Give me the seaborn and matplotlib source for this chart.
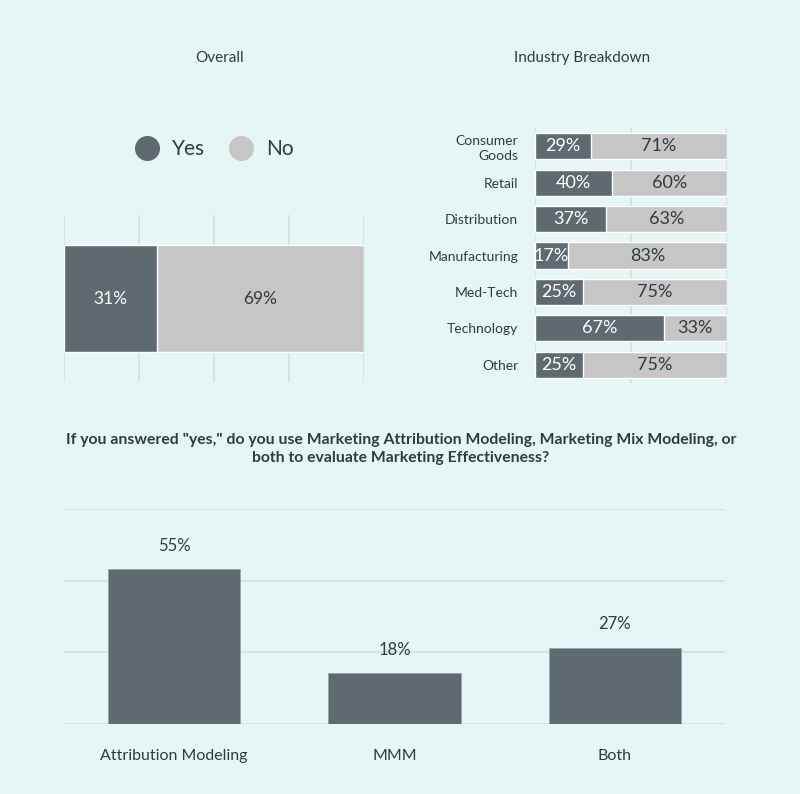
import matplotlib
matplotlib.use("Agg")
import matplotlib.pyplot as plt
from matplotlib.lines import Line2D
import seaborn as sns
import pandas as pd

# ---- data ----
overall_labels = ["Overall"]
overall_yes = [31]
overall_no = [69]

industries = ["Consumer\nGoods", "Retail", "Distribution", "Manufacturing",
              "Med-Tech", "Technology", "Other"]
industry_yes = [29, 40, 37, 17, 25, 67, 25]
industry_no = [71, 60, 63, 83, 75, 33, 75]

methods = ["Attribution Modeling", "MMM", "Both"]
method_pct = [55, 18, 27]

# ---- style ----
BG = "#e6f5f5"
DARK = "#5f6a70"
LIGHT = "#c6c6c6"
TXT = "#333a3f"
GRID = "#d3e0e0"

sns.set_theme(style="white")
plt.rcParams["font.family"] = ["Lato", "DejaVu Sans"]
plt.rcParams["text.color"] = TXT

fig = plt.figure(figsize=(8.0, 7.94), dpi=100, facecolor=BG)

def style_ax(ax):
    ax.set_facecolor(BG)
    for s in ax.spines.values():
        s.set_visible(False)
    ax.tick_params(length=0)
    ax.set_xlabel("")
    ax.set_ylabel("")

# ---- Overall ----
ax1 = fig.add_axes([0.08, 0.5189, 0.375, 0.2103])
df1 = pd.DataFrame({"cat": overall_labels, "yes": overall_yes,
                    "total": [y + n for y, n in zip(overall_yes, overall_no)]})
sns.barplot(data=df1, x="total", y="cat", color=LIGHT, width=0.64,
            saturation=1, ax=ax1, zorder=2)
sns.barplot(data=df1, x="yes", y="cat", color=DARK, width=0.64,
            saturation=1, ax=ax1, zorder=3)
ax1.set_xlim(0, 100)
ax1.set_ylim(0.5, -0.5)
ax1.set_xticks([0, 25, 50, 75, 100])
ax1.xaxis.grid(True, color=GRID, lw=1.2, zorder=0)
ax1.set_axisbelow(True)
ax1.set_xticklabels([])
ax1.set_yticklabels([])
style_ax(ax1)
for i, (y, n) in enumerate(zip(overall_yes, overall_no)):
    ax1.text(y / 2, i, f"{y}%", ha="center", va="center", color="white",
             fontsize=12.5, zorder=5)
    ax1.text(y + n / 2, i, f"{n}%", ha="center", va="center", color=TXT,
             fontsize=12.5, zorder=5)

fig.text(220 / 800, 1 - 58 / 794, "Overall", ha="center", va="center",
         fontsize=11, color=TXT)

handles = [Line2D([], [], ls="none", marker="o", markersize=17,
                  markerfacecolor=DARK, markeredgecolor=DARK),
           Line2D([], [], ls="none", marker="o", markersize=17,
                  markerfacecolor=LIGHT, markeredgecolor=LIGHT)]
fig.legend(handles, ["Yes", "No"], loc="center", ncol=2,
           bbox_to_anchor=(210 / 800, 1 - 149 / 794), frameon=False,
           fontsize=15, handletextpad=0.2, columnspacing=0.75,
           labelcolor=TXT)

# ---- Industry Breakdown ----
ax2 = fig.add_axes([0.66875, 0.5176, 0.24, 0.3212])
df2 = pd.DataFrame({"cat": industries, "yes": industry_yes,
                    "total": [y + n for y, n in zip(industry_yes, industry_no)]})
sns.barplot(data=df2, x="total", y="cat", color=LIGHT, width=0.72,
            saturation=1, ax=ax2, zorder=2)
sns.barplot(data=df2, x="yes", y="cat", color=DARK, width=0.72,
            saturation=1, ax=ax2, zorder=3)
ax2.set_xlim(0, 100)
ax2.set_ylim(len(industries) - 0.5, -0.5)
ax2.set_xticks([0, 50, 100])
ax2.xaxis.grid(True, color=GRID, lw=1.2, zorder=0)
ax2.set_axisbelow(True)
ax2.set_xticklabels([])
style_ax(ax2)
ax2.tick_params(axis="y", pad=12, labelsize=10, labelcolor=TXT)
for lab in ax2.get_yticklabels():
    lab.set_linespacing(1.3)
    lab.set_multialignment("right")
for i, (y, n) in enumerate(zip(industry_yes, industry_no)):
    ax2.text(y / 2, i, f"{y}%", ha="center", va="center", color="white",
             fontsize=13, zorder=5)
    ax2.text(y + n / 2, i, f"{n}%", ha="center", va="center", color=TXT,
             fontsize=13, zorder=5)

fig.text(582 / 800, 1 - 58 / 794, "Industry Breakdown", ha="center",
         va="center", fontsize=11, color=TXT)

# ---- Bottom question ----
fig.text(401 / 800, 1 - 449 / 794,
         'If you answered "yes," do you use Marketing Attribution Modeling, Marketing Mix Modeling, or\nboth to evaluate Marketing Effectiveness?',
         ha="center", va="center", fontsize=11.3, fontweight="bold",
         color=TXT, linespacing=1.45)

ax3 = fig.add_axes([0.08, 0.0882, 0.82625, 0.2708])
df3 = pd.DataFrame({"method": methods, "pct": method_pct})
sns.barplot(data=df3, x="method", y="pct", color=DARK, width=0.6,
            saturation=1, ax=ax3, zorder=3, edgecolor="#9aa3a8", linewidth=0.6)
top = 76.5
ax3.set_ylim(0, top)
ax3.set_xlim(-0.5, len(methods) - 0.5)
ax3.set_yticks([0, top / 3, 2 * top / 3, top])
ax3.yaxis.grid(True, color=GRID, lw=1.2, zorder=0)
ax3.set_axisbelow(True)
ax3.set_yticklabels([])
style_ax(ax3)
ax3.tick_params(axis="x", pad=18, labelsize=11.5, labelcolor=TXT)
for i, v in enumerate(method_pct):
    ax3.annotate(f"{v}%", (i, v), xytext=(0, 17), textcoords="offset points",
                 ha="center", va="center", fontsize=12, color=TXT)

fig.savefig("out.png", dpi=100, facecolor=BG)
